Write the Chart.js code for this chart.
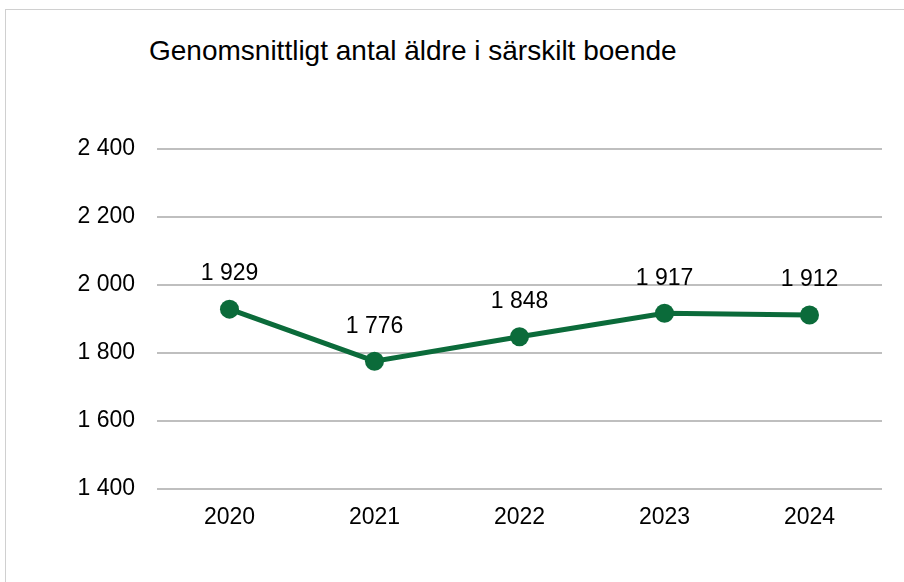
<!DOCTYPE html>
<html>
<head>
<meta charset="utf-8">
<script src="https://cdn.jsdelivr.net/npm/chart.js@4/dist/chart.umd.min.js"></script>
<style>
    body { margin: 0; background: #fff; }
    #wrap { position: relative; width: 904px; height: 582px; overflow: hidden; }
    #frame { position: absolute; left: 5px; top: 9px; width: 1000px; height: 1000px;
             border-top: 1px solid #d0d0d0; border-left: 1px solid #d0d0d0; }
    #title { position: absolute; left: 149px; top: 35px; font: 28px "Liberation Sans", Arial, sans-serif;
             color: #000; white-space: nowrap; }
    canvas { position: absolute; left: 0; top: 0; }
</style>
</head>
<body>
<div id="wrap">
    <div id="frame"></div>
    <div id="title">Genomsnittligt antal äldre i särskilt boende</div>
    <canvas id="chart" width="904" height="582"></canvas>
</div>
<script>
const years = ["2020", "2021", "2022", "2023", "2024"];
const values = [1929, 1776, 1848, 1917, 1912];
const yTicks = [1400, 1600, 1800, 2000, 2200, 2400];

const green = "#0b6b3a";
const font = "Liberation Sans, Arial, sans-serif";

function fmt(v) {
    return String(v).replace(/\B(?=(\d{3})+(?!\d))/g, " ");
}

// draws the value above each point
const valueLabels = {
    id: "valueLabels",
    afterDatasetsDraw(chart) {
        const ctx = chart.ctx;
        const meta = chart.getDatasetMeta(0);
        ctx.save();
        ctx.font = "23px " + font;
        ctx.fillStyle = "#000";
        ctx.textAlign = "center";
        ctx.textBaseline = "middle";
        meta.data.forEach((pt, i) => {
            ctx.fillText(fmt(values[i]), pt.x, pt.y - 35);
        });
        ctx.restore();
    }
};

new Chart(document.getElementById("chart"), {
    type: "line",
    data: {
        labels: years,
        datasets: [{
            data: values,
            borderColor: green,
            backgroundColor: green,
            borderWidth: 5,
            pointRadius: 9.5,
            pointBackgroundColor: green,
            pointBorderWidth: 0,
            tension: 0
        }]
    },
    options: {
        responsive: false,
        animation: false,
        layout: { padding: { left: 0, right: 22, top: 149, bottom: 0 } },
        plugins: { legend: { display: false }, tooltip: { enabled: false } },
        scales: {
            x: {
                offset: true,
                grid: { display: false, drawTicks: false },
                border: { display: false },
                ticks: { color: "#000", font: { size: 23, family: font }, padding: 15, maxRotation: 0 },
                afterFit(s) { s.height = 93; }
            },
            y: {
                min: 1400,
                max: 2400,
                afterBuildTicks(s) { s.ticks = yTicks.map(v => ({ value: v })); },
                grid: { color: "#bfbfbf", lineWidth: 2, drawTicks: false },
                border: { display: false },
                ticks: { color: "#000", font: { size: 23, family: font }, padding: 22, callback: v => fmt(v) },
                afterFit(s) { s.width = 157; }
            }
        }
    },
    plugins: [valueLabels]
});
</script>
</body>
</html>
